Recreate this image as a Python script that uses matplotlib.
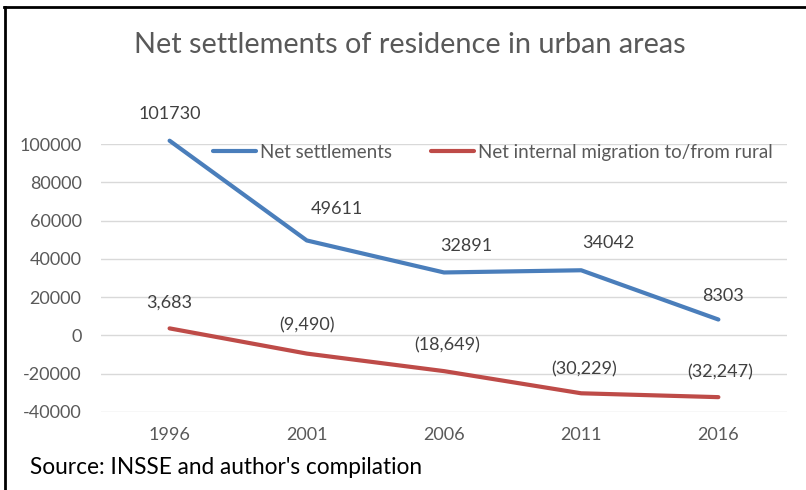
import matplotlib
matplotlib.use("Agg")
import matplotlib.pyplot as plt
from matplotlib.lines import Line2D

plt.rcParams['font.family'] = ['Lato', 'DejaVu Sans']

years = ["1996", "2001", "2006", "2011", "2016"]
net_settlements = [101730, 49611, 32891, 34042, 8303]
net_migration = [3683, -9490, -18649, -30229, -32247]
settlement_labels = ["101730", "49611", "32891", "34042", "8303"]
migration_labels = ["3,683", "(9,490)", "(18,649)", "(30,229)", "(32,247)"]
y_ticks = [-40000, -20000, 0, 20000, 40000, 60000, 80000, 100000]

blue = "#4A7EBB"
red = "#BE4B48"
grey = "#595959"

fig = plt.figure(figsize=(8.06, 4.90), dpi=100)
ax = fig.add_axes([0.1253, 0.1592, 0.8511, 0.5469])

x = list(range(len(years)))
ax.plot(x, net_settlements, color=blue, lw=3, solid_capstyle='round',
        clip_on=False, label="Net settlements")
ax.plot(x, net_migration, color=red, lw=3, solid_capstyle='round',
        clip_on=False, label="Net internal migration to/from rural")

# data labels, nudged like the hand-placed ones
blue_off = [(0, 27), (30, 31), (22, 26), (27, 27), (5, 24)]
red_off = [(0, 26), (0, 28), (3, 26), (3, 24), (2, 25)]
for i, (v, t) in enumerate(zip(net_settlements, settlement_labels)):
    ax.annotate(t, (i, v), xytext=blue_off[i], textcoords='offset pixels',
                ha='center', va='center', fontsize=13, color="#404040",
                annotation_clip=False)
for i, (v, t) in enumerate(zip(net_migration, migration_labels)):
    ax.annotate(t, (i, v), xytext=red_off[i], textcoords='offset pixels',
                ha='center', va='center', fontsize=13, color="#404040",
                annotation_clip=False)

ax.set_xlim(-0.5, len(years) - 0.5)
ax.set_ylim(-40000, 100000)
ax.set_yticks(y_ticks)
ax.set_yticklabels([str(t) for t in y_ticks])
ax.set_xticks(x)
ax.set_xticklabels(years)
ax.tick_params(axis='both', length=0, labelsize=13, labelcolor=grey)
ax.tick_params(axis='y', pad=14)
ax.tick_params(axis='x', pad=11)
ax.grid(axis='y', color="#D9D9D9", lw=1)
ax.set_axisbelow(True)
for s in ax.spines.values():
    s.set_visible(False)

leg = ax.legend(loc='center left', bbox_to_anchor=(0.163, 0.970), ncol=2,
                frameon=False, fontsize=13.5, handlelength=2.3,
                handletextpad=0.2, columnspacing=2.1, borderaxespad=0,
                borderpad=0)
for t in leg.get_texts():
    t.set_color(grey)

fig.text(0.509, 0.908, "Net settlements of residence in urban areas",
         ha='center', va='center', fontsize=20.8, color=grey)
fig.text(0.037, 0.045, "Source: INSSE and author's compilation",
         ha='left', va='center', fontsize=16.3, color="black")

# frame edges along the top and left
fig.add_artist(Line2D([0.005, 1], [0.986, 0.986], color='black', lw=2))
fig.add_artist(Line2D([0.0062, 0.0062], [0, 0.986], color='black', lw=2))

fig.savefig("out.png", dpi=100, facecolor='white')
